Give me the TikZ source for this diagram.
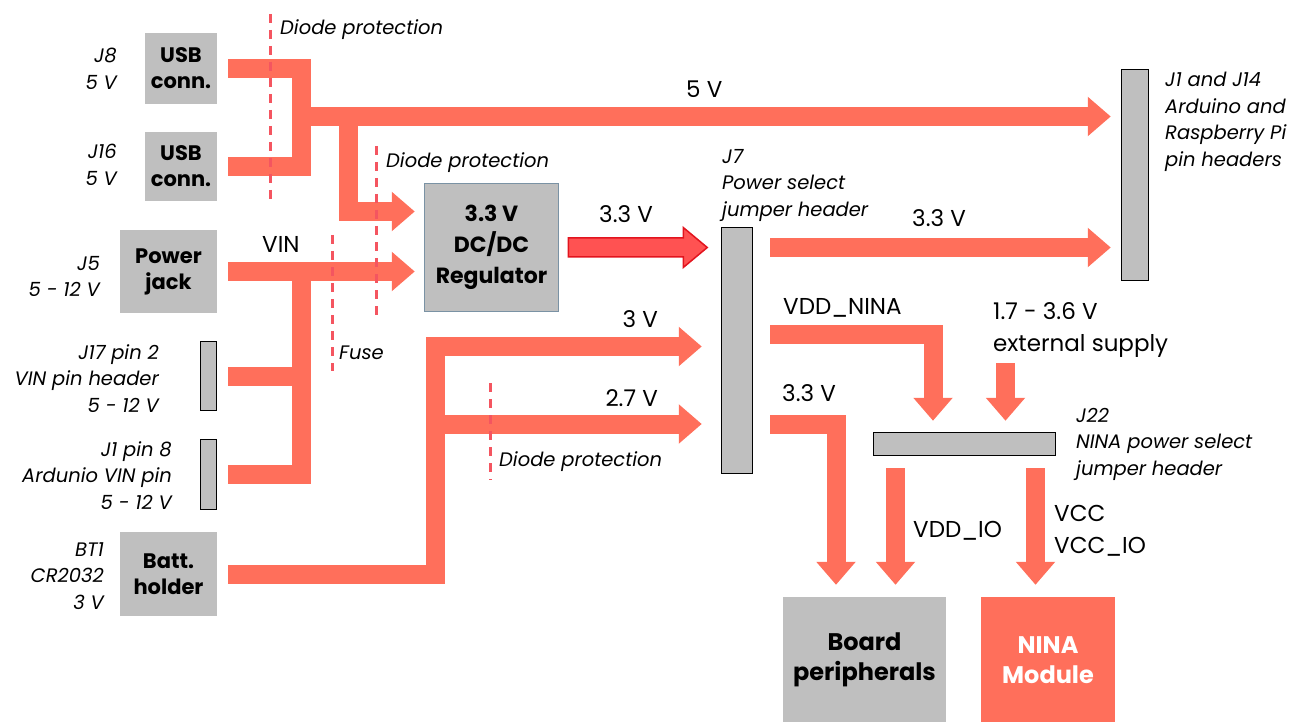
\documentclass[tikz,border=0pt]{standalone}
\usepackage{fontspec}
\setmainfont{Poppins}
\usetikzlibrary{arrows.meta,positioning,calc}

\definecolor{busred}{RGB}{255,111,91}
\definecolor{boxgray}{RGB}{191,191,191}
\definecolor{regedge}{RGB}{122,146,164}
\definecolor{hotred}{RGB}{255,82,82}
\definecolor{hotedge}{RGB}{226,20,30}
\definecolor{dashred}{RGB}{244,85,96}

\begin{document}
\begin{tikzpicture}[x=1pt, y=-1pt,
    bus/.style={line width=19pt, busred},
    busarrow/.style={bus, -{Triangle[length=23pt,width=38pt]}},
    graybox/.style={fill=boxgray, inner sep=0pt, align=center, font=\bfseries\fontsize{21}{26}\selectfont},
    pinhdr/.style={draw=black, line width=1.5pt, fill=boxgray, inner sep=0pt},
    note/.style={inner sep=0pt, font=\itshape\fontsize{19.5}{26.5}\selectfont},
    volt/.style={inner sep=0pt, anchor=base west, font=\fontsize{23}{32}\selectfont},
    cut/.style={dashred, line width=3pt, dash pattern=on 9pt off 7pt},
  ]
  \useasboundingbox (0,0) rectangle (1304,722);

  % 1. Quellen links
  \node[graybox, minimum width=72pt, minimum height=71pt] (usbA) at (181,68.5) {USB\\conn.};
  \node[graybox, minimum width=72pt, minimum height=69pt] (usbB) at (181,166.5) {USB\\conn.};
  \node[graybox, minimum width=97pt, minimum height=83pt] (jack) at (168.5,271.5) {Power\\jack};
  \node[pinhdr, minimum width=16pt, minimum height=69pt] (vinA) at (208.5,376) {};
  \node[pinhdr, minimum width=16pt, minimum height=70pt] (vinB) at (208.5,474.5) {};
  \node[graybox, minimum width=97pt, minimum height=84pt] (batt) at (168.5,574) {Batt.\\holder};

  \node[note, align=right, anchor=north east] (usbAnote) at (117,48) {J8\\5 V};
  \node[note, align=right, anchor=north east] (usbBnote) at (117,144) {J16\\5 V};
  \node[note, align=right, anchor=north east] (jacknote) at (100,256) {J5\\5 - 12 V};
  \node[note, align=right, anchor=north east] (vinAnote) at (159,344) {J17 pin 2\\VIN pin header\\5 - 12 V};
  \node[note, align=right, anchor=north east] (vinBnote) at (172,441) {J1 pin 8\\Ardunio VIN pin\\5 - 12 V};
  \node[note, align=right, anchor=north east] (battnote) at (104,542) {BT1\\CR2032\\3 V};

  % 2. Regler und Jumper-Header
  \node[graybox, draw=regedge, line width=1.5pt, minimum width=134pt, minimum height=128pt,
        font=\bfseries\fontsize{22}{31}\selectfont] (reg) at (491.5,247.5) {3.3 V\\DC/DC\\Regulator};
  \node[pinhdr, minimum width=31pt, minimum height=246pt] (jsel) at (737,350.5) {};
  \node[pinhdr, minimum width=27pt, minimum height=211pt] (pins) at (1135,175) {};
  \node[pinhdr, minimum width=182pt, minimum height=23pt] (nsel) at (964.5,444) {};

  \node[note, align=left, anchor=north west] (jselnote) at (722,149) {J7\\Power select\\jumper header};
  \node[note, align=left, anchor=north west] (pinsnote) at (1165,72) {J1 and J14\\Arduino and\\Raspberry Pi\\pin headers};
  \node[note, align=left, anchor=north west] (nselnote) at (1076,408) {J22\\NINA power select\\jumper header};

  % 3. Verbraucher
  \node[graybox, minimum width=163pt, minimum height=126pt,
        font=\bfseries\fontsize{24}{30}\selectfont] (periph) at (864.5,660) {Board\\peripherals};
  \node[graybox, fill=busred, text=white, minimum width=134pt, minimum height=126pt,
        font=\bfseries\fontsize{24}{30}\selectfont] (nina) at (1048,660) {NINA\\Module};

  % 4. Leitungen
  \coordinate (j5) at (301.5,116.5);
  \coordinate (jreg) at (348.5,116.5);
  \coordinate (jvin) at (301.5,271.5);
  \coordinate (jbat) at (435.5,346.5);
  \coordinate (jbat2) at (435.5,424);
  \coordinate (rowN) at (0,334.5);
  \coordinate (rowL) at (0,424.5);
  \coordinate (dropL) at (836,0);
  \coordinate (ext) at (1005.5,363);
  \coordinate (ioA) at ([xshift=-69pt,yshift=-12pt]nsel.south);
  \coordinate (ioB) at ([xshift=71pt,yshift=-12pt]nsel.south);

  \draw[bus] ([xshift=11pt]usbA.east) -| (j5) |- ([xshift=11pt]usbB.east);
  \draw[busarrow] (j5) -- ([xshift=-10pt]pins.west |- j5);
  \draw[busarrow] (jreg) |- ([xshift=-9pt,yshift=36pt]reg.west);
  \draw[busarrow] ([xshift=11pt]jack.east) -- ([xshift=-9pt]reg.west |- jack.east);
  \draw[bus] ([xshift=11pt]vinA.east) -| (jvin);
  \draw[bus] ([xshift=11pt]vinB.east) -| (jvin);
  \draw[busarrow] ([xshift=11pt]batt.east) -| (jbat) -- ([xshift=-19pt]jsel.west |- jbat);
  \draw[busarrow] (jbat2) -- ([xshift=-19pt]jsel.west |- jbat2);

  % 3.3 V aus dem Regler (roter Pfeil mit Rand)
  \begin{scope}[shift={(reg.east)}]
    \draw[fill=hotred, draw=hotedge, line width=1.5pt, line join=miter]
      (9,-9.5) -- (124,-9.5) -- (124,-20) -- (148,0) -- (124,20) -- (124,9.5) -- (9,9.5) -- cycle;
  \end{scope}

  \draw[busarrow] ([xshift=17pt]jsel.east |- reg.east) -- ([xshift=-10pt]pins.west |- reg.east);
  \draw[busarrow] ([xshift=17pt]jsel.east |- rowN) -| ([xshift=-31.5pt,yshift=11pt]nsel.north);
  \draw[busarrow] (ext) -- ([yshift=11pt]nsel.north -| ext);
  \draw[busarrow] ([xshift=17pt]jsel.east |- rowL) -| ([yshift=12pt]periph.north -| dropL);
  \draw[busarrow] (ioA) -- ([yshift=12pt]periph.north -| ioA);
  \draw[busarrow] (ioB) -- ([yshift=12pt]nina.north -| ioB);

  % 5. Spannungen
  \node[volt] (v5) at (686,98) {5 V};
  \node[volt] (v33reg) at (599,223) {3.3 V};
  \node[volt] (v33pins) at (912,227) {3.3 V};
  \node[volt, anchor=base east] (v3) at (658,327) {3 V};
  \node[volt, anchor=base east] (v27) at (658,406) {2.7 V};
  \node[volt] (vin) at (262,252) {VIN};
  \node[volt] (vddnina) at (783,314) {VDD\_NINA};
  \node[volt] (vext) at (993,319) {1.7 - 3.6 V};
  \node[volt] (vextb) at (993,351) {external supply};
  \node[volt] (v33per) at (782,401) {3.3 V};
  \node[volt] (vddio) at (913,537) {VDD\_IO};
  \node[volt] (vcc) at (1054,521) {VCC};
  \node[volt] (vccio) at (1054,553) {VCC\_IO};

  % 6. Dioden und Sicherung (gestrichelt)
  \draw[cut] (270,14) -- (270,201);
  \draw[cut] (376,146) -- (376,320);
  \draw[cut] (332,235) -- (332,371);
  \draw[cut] (490,383) -- (490,480);
  \node[note, anchor=north west] (cutA) at (280,19) {Diode protection};
  \node[note, anchor=north west] (cutB) at (386,152) {Diode protection};
  \node[note, anchor=north west] (fuse) at (339,346) {Fuse};
  \node[note, anchor=north west] (cutC) at (499,451) {Diode protection};

\end{tikzpicture}
\end{document}
